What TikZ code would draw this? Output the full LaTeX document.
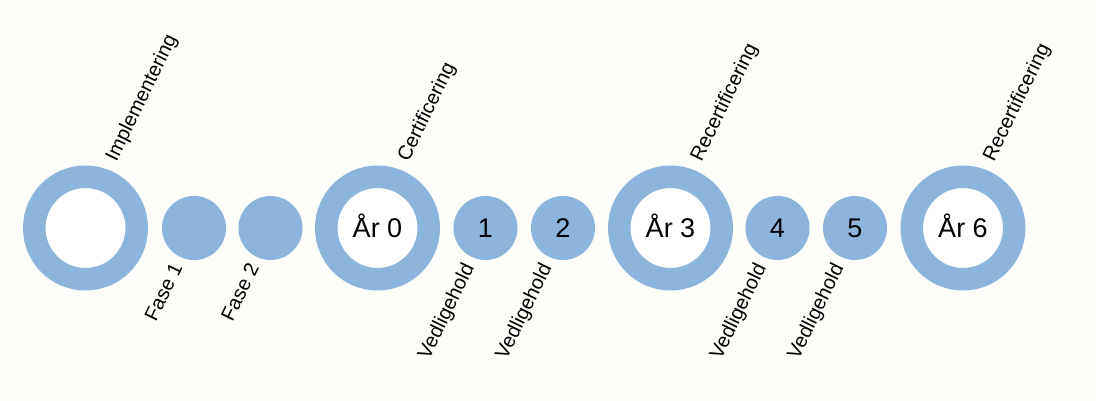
\documentclass[tikz,border=0pt]{standalone}
\usepackage{fontspec}
\setmainfont{Liberation Sans}
\usepackage{tikz}

\definecolor{ringblue}{RGB}{141,180,219}
\definecolor{paper}{RGB}{253,253,249}

\begin{document}
\begin{tikzpicture}[x=1pt, y=1pt,
  ring/.style={circle, draw=ringblue, fill=white, line width=22.5pt, minimum size=102.5pt, inner sep=0pt, outer sep=0pt, text height=19pt, text depth=0pt, font=\fontsize{27}{32}\selectfont},
  dot/.style={circle, fill=ringblue, minimum size=64pt, inner sep=0pt, outer sep=0pt, text height=19pt, text depth=0pt, font=\fontsize{27}{32}\selectfont},
  toplabel/.style={rotate=64, anchor=base west, inner sep=0pt, font=\fontsize{20}{24}\selectfont},
  botlabel/.style={rotate=64, anchor=base east, inner sep=0pt, font=\fontsize{20}{24}\selectfont}]
\fill[paper] (0,0) rectangle (1096,401);
\useasboundingbox (0,0) rectangle (1096,401);

\node[ring] (impl) at (85.5,173) {};
\node[dot] (fase1) at (194,173) {};
\node[dot] (fase2) at (270.5,173) {};
\node[ring] (aar0) at (377.5,173) {År 0};
\node[dot] (v1) at (485.5,173) {1};
\node[dot] (v2) at (563,173) {2};
\node[ring] (aar3) at (670.5,173) {År 3};
\node[dot] (v4) at (777.5,173) {4};
\node[dot] (v5) at (855,173) {5};
\node[ring] (aar6) at (963,173) {År 6};

\node[toplabel] (implText) at ([shift={(31,65)}]impl.center) {Implementering};
\node[toplabel] (aar0Text) at ([shift={(31,65)}]aar0.center) {Certificering};
\node[toplabel] (aar3Text) at ([shift={(31,65)}]aar3.center) {Recertificering};
\node[toplabel] (aar6Text) at ([shift={(31,65)}]aar6.center) {Recertificering};

\node[botlabel] (fase1Text) at ([shift={(-11,-39)}]fase1.center) {Fase 1};
\node[botlabel] (fase2Text) at ([shift={(-11,-39)}]fase2.center) {Fase 2};
\node[botlabel] (v1Text) at ([shift={(-11,-39)}]v1.center) {Vedligehold};
\node[botlabel] (v2Text) at ([shift={(-11,-39)}]v2.center) {Vedligehold};
\node[botlabel] (v4Text) at ([shift={(-11,-39)}]v4.center) {Vedligehold};
\node[botlabel] (v5Text) at ([shift={(-11,-39)}]v5.center) {Vedligehold};
\end{tikzpicture}
\end{document}
